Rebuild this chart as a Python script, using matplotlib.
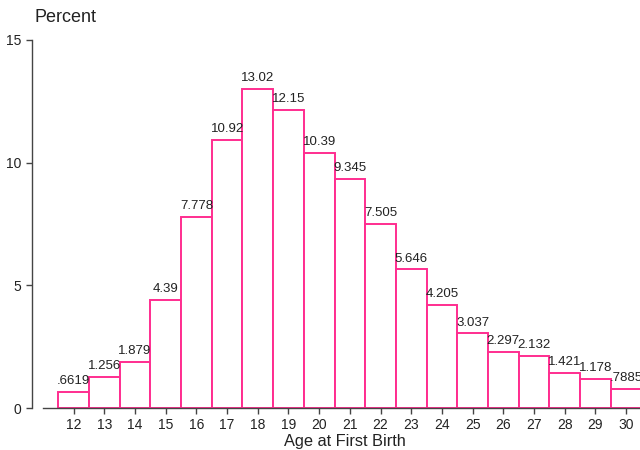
import matplotlib
matplotlib.use("Agg")
import matplotlib.pyplot as plt

# Age at first birth (percent)
ages = list(range(12, 31))
percent = [0.6619, 1.256, 1.879, 4.39, 7.778, 10.92, 13.02, 12.15, 10.39,
           9.345, 7.505, 5.646, 4.205, 3.037, 2.297, 2.132, 1.421, 1.178, 0.7885]
bar_labels = [".6619", "1.256", "1.879", "4.39", "7.778", "10.92", "13.02", "12.15",
              "10.39", "9.345", "7.505", "5.646", "4.205", "3.037", "2.297", "2.132",
              "1.421", "1.178", ".7885"]

plt.rcParams['font.family'] = ['Liberation Sans', 'DejaVu Sans']

fig = plt.figure(figsize=(6.4, 4.5), dpi=100)
ax = fig.add_axes([43/640, 42/450, 603/640, 368/450])

pink = "#ff2d8f"
ax.bar(ages, percent, width=1.0, color="white", edgecolor=pink, linewidth=1.4)

for x, y, s in zip(ages, percent, bar_labels):
    ax.text(x, y + 0.2, s, ha="center", va="bottom", fontsize=9.5, color="#222222")

ax.set_xlim(11.0, 30.65)
ax.set_ylim(0, 15)
ax.set_xticks(ages)
ax.set_yticks([0, 5, 10, 15])

ax.spines['top'].set_visible(False)
ax.spines['right'].set_visible(False)
ax.spines['left'].set_position(('outward', 8))
for side in ['left', 'bottom']:
    ax.spines[side].set_color("#444444")
    ax.spines[side].set_linewidth(1.0)

ax.tick_params(axis='both', colors="#444444", labelcolor="#222222",
               labelsize=10, length=4, width=1.0)

ax.set_xlabel("Age at First Birth", fontsize=11.8, color="#222222", labelpad=1)
fig.text(35/640, 1 - 17/450, "Percent", fontsize=13, color="#222222",
         ha="left", va="center")

fig.savefig("out.png", dpi=100, facecolor="white")
